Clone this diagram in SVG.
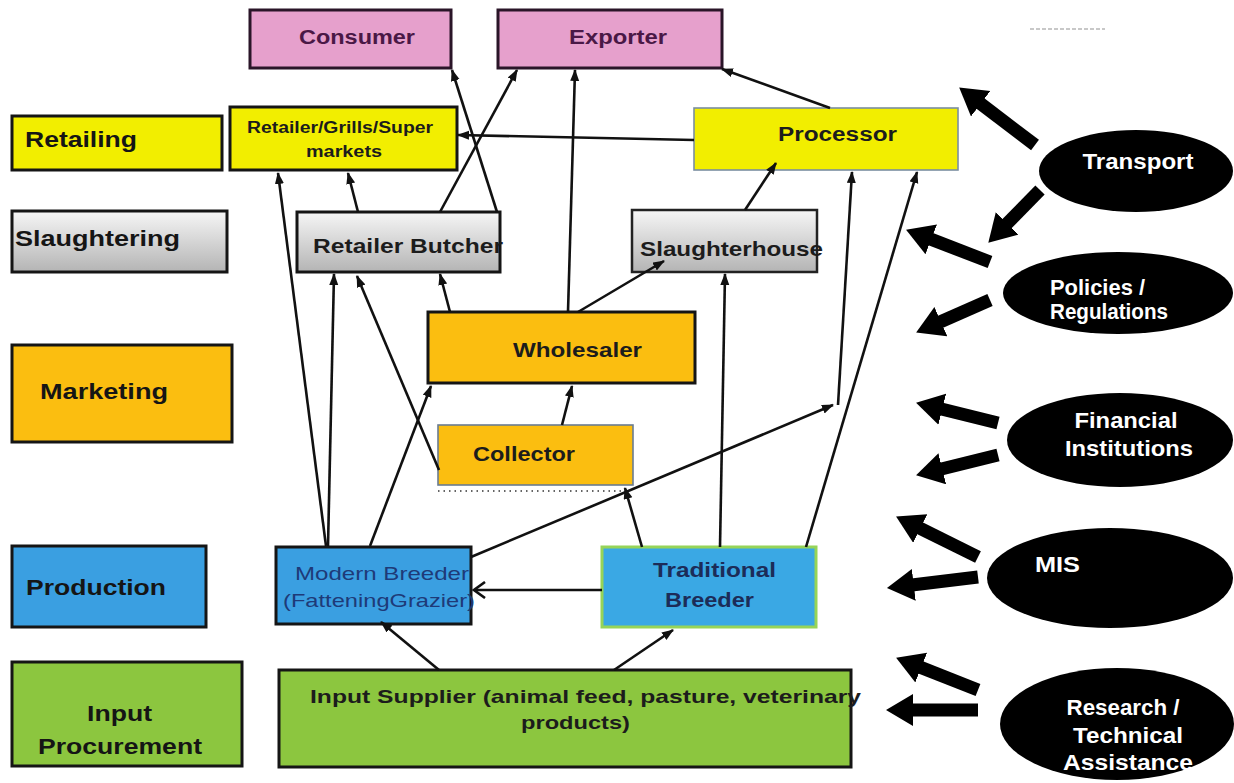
<svg xmlns="http://www.w3.org/2000/svg" width="1234" height="783" viewBox="0 0 1234 783">
  <style>
    text { font-family: "Liberation Sans", Arial, sans-serif; font-weight: bold; }
    text.plain { font-weight: normal; }
    .box { stroke: #151515; stroke-width: 3; }
    .yellow { fill: #f2ee00; }
    .gray { fill: url(#grayFill); }
    .orange { fill: #fbbe10; }
    .blue { fill: #3a9fe1; }
    .green { fill: #8cc63f; }
    .pink { fill: #e6a0cc; stroke: #2a1528; stroke-width: 3; }
    .lbl { font-size: 22px; fill: #151515; }
    .dark { fill: #1c1c1c; }
    .purple { fill: #4a1846; font-size: 20px; }
    .navy { fill: #1c2c58; }
    .oval { fill: #000; }
    .otext { fill: #fff; font-size: 22px; text-anchor: middle; }
    .otext.start { text-anchor: start; }
    .link { fill: none; stroke: #111; stroke-width: 2.6; marker-end: url(#tip); }
    .open { fill: none; stroke: #111; stroke-width: 2.6; marker-end: url(#vtip); }
    .block { fill: none; stroke: #000; stroke-width: 13; marker-end: url(#bigTip); }
  </style>
  <defs>
    <linearGradient id="grayFill" x1="0" y1="0" x2="0" y2="1">
      <stop offset="0" stop-color="#f6f6f6"/>
      <stop offset="1" stop-color="#b4b4b4"/>
    </linearGradient>
    <marker id="tip" markerUnits="userSpaceOnUse" markerWidth="12" markerHeight="10" refX="11" refY="4.5" orient="auto">
      <path d="M0,0 L12,4.5 L0,9 Z" fill="#111"/>
    </marker>
    <marker id="vtip" markerUnits="userSpaceOnUse" markerWidth="14" markerHeight="18" refX="12" refY="9" orient="auto">
      <path d="M1,1 L12,9 L1,17" fill="none" stroke="#111" stroke-width="2.6"/>
    </marker>
    <marker id="bigTip" markerUnits="userSpaceOnUse" markerWidth="28" markerHeight="34" refX="4" refY="16" orient="auto">
      <path d="M0,0 L27,16 L0,32 Z" fill="#000"/>
    </marker>
  </defs>

  <rect width="1234" height="783" fill="#fff"/>
  <line x1="1030" y1="29" x2="1105" y2="29" stroke="#c8c8c8" stroke-width="2" stroke-dasharray="4 2"/>

  <!-- stage labels, left column -->
  <g id="stage-retailing">
    <rect class="box yellow" x="12" y="116" width="210" height="54"/>
    <text class="lbl" x="25" y="147" textLength="112" lengthAdjust="spacingAndGlyphs">Retailing</text>
  </g>
  <g id="stage-slaughtering">
    <rect class="box gray" x="12" y="211" width="215" height="61"/>
    <text class="lbl" x="15" y="246" textLength="165" lengthAdjust="spacingAndGlyphs">Slaughtering</text>
  </g>
  <g id="stage-marketing">
    <rect class="box orange" x="12" y="345" width="220" height="97"/>
    <text class="lbl" x="40" y="399" textLength="128" lengthAdjust="spacingAndGlyphs">Marketing</text>
  </g>
  <g id="stage-production">
    <rect class="box blue" x="12" y="546" width="194" height="81"/>
    <text class="lbl" x="26" y="595" textLength="140" lengthAdjust="spacingAndGlyphs">Production</text>
  </g>
  <g id="stage-input">
    <rect class="box green" x="12" y="662" width="230" height="104"/>
    <text class="lbl" x="87" y="721" textLength="65" lengthAdjust="spacingAndGlyphs">Input</text>
    <text class="lbl" x="38" y="754" textLength="164" lengthAdjust="spacingAndGlyphs">Procurement</text>
  </g>

  <!-- chain actors -->
  <g id="consumer">
    <rect class="pink" x="250" y="10" width="201" height="58"/>
    <text class="purple" x="299" y="44" textLength="116" lengthAdjust="spacingAndGlyphs">Consumer</text>
  </g>
  <g id="exporter">
    <rect class="pink" x="498" y="10" width="224" height="58"/>
    <text class="purple" x="569" y="44" textLength="98" lengthAdjust="spacingAndGlyphs">Exporter</text>
  </g>
  <g id="retailer-grills">
    <rect class="box yellow" x="230" y="107" width="227" height="63"/>
    <text class="dark" x="247" y="133" font-size="16" textLength="186" lengthAdjust="spacingAndGlyphs">Retailer/Grills/Super</text>
    <text class="dark" x="306" y="157" font-size="16" textLength="76" lengthAdjust="spacingAndGlyphs">markets</text>
  </g>
  <g id="processor">
    <rect x="694" y="108" width="264" height="62" fill="#f2ee00" stroke="#7a8ea0" stroke-width="1.6"/>
    <text class="dark" x="778" y="141" font-size="20" textLength="119" lengthAdjust="spacingAndGlyphs">Processor</text>
  </g>
  <g id="retailer-butcher">
    <rect class="box gray" x="297" y="212" width="203" height="60"/>
    <text class="dark" x="313" y="253" font-size="21" textLength="190" lengthAdjust="spacingAndGlyphs">Retailer Butcher</text>
  </g>
  <g id="slaughterhouse">
    <rect class="gray" x="632" y="210" width="185" height="62" stroke="#222" stroke-width="2.5"/>
    <text class="dark" x="640" y="256" font-size="21" textLength="183" lengthAdjust="spacingAndGlyphs">Slaughterhouse</text>
  </g>
  <g id="wholesaler">
    <rect class="box orange" x="428" y="312" width="267" height="71"/>
    <text class="dark" x="513" y="357" font-size="21" textLength="129" lengthAdjust="spacingAndGlyphs">Wholesaler</text>
  </g>
  <g id="collector">
    <rect x="438" y="425" width="195" height="60" fill="#fbbe10" stroke="#6a7c92" stroke-width="1.6"/>
    <line x1="438" y1="491" x2="624" y2="491" stroke="#333" stroke-width="1.6" stroke-dasharray="1.5 4"/>
    <text class="dark" x="473" y="461" font-size="21" textLength="102" lengthAdjust="spacingAndGlyphs">Collector</text>
  </g>
  <g id="modern-breeder">
    <rect class="box blue" x="276" y="547" width="195" height="77"/>
    <text class="plain" x="295" y="580" font-size="19" fill="#1e3a78" textLength="174" lengthAdjust="spacingAndGlyphs">Modern Breeder</text>
    <text class="plain" x="283" y="607" font-size="19" fill="#1e3a78" textLength="192" lengthAdjust="spacingAndGlyphs">(FatteningGrazier)</text>
  </g>
  <g id="traditional-breeder">
    <rect x="602" y="547" width="214" height="80" fill="#3aa8e4" stroke="#96d458" stroke-width="3"/>
    <text class="navy" x="653" y="577" font-size="20" textLength="123" lengthAdjust="spacingAndGlyphs">Traditional</text>
    <text class="navy" x="665" y="607" font-size="20" textLength="89" lengthAdjust="spacingAndGlyphs">Breeder</text>
  </g>
  <g id="input-supplier">
    <rect class="box green" x="279" y="670" width="572" height="97"/>
    <text class="dark" x="310" y="703" font-size="19" textLength="551" lengthAdjust="spacingAndGlyphs">Input Supplier (animal feed, pasture, veterinary</text>
    <text class="dark" x="521" y="729" font-size="19" textLength="109" lengthAdjust="spacingAndGlyphs">products)</text>
  </g>

  <!-- support services -->
  <g id="transport">
    <ellipse class="oval" cx="1136" cy="171" rx="97" ry="41"/>
    <text class="otext" x="1138" y="169" textLength="111" lengthAdjust="spacingAndGlyphs">Transport</text>
  </g>
  <g id="policies">
    <ellipse class="oval" cx="1118" cy="293" rx="115" ry="41"/>
    <text class="otext start" x="1050" y="295" textLength="95" lengthAdjust="spacingAndGlyphs">Policies /</text>
    <text class="otext start" x="1050" y="319" textLength="118" lengthAdjust="spacingAndGlyphs">Regulations</text>
  </g>
  <g id="financial">
    <ellipse class="oval" cx="1120" cy="440" rx="113" ry="47"/>
    <text class="otext" x="1126" y="428" textLength="103" lengthAdjust="spacingAndGlyphs">Financial</text>
    <text class="otext" x="1129" y="456" textLength="128" lengthAdjust="spacingAndGlyphs">Institutions</text>
  </g>
  <g id="mis">
    <ellipse class="oval" cx="1110" cy="578" rx="123" ry="50"/>
    <text class="otext start" x="1035" y="572" textLength="45" lengthAdjust="spacingAndGlyphs">MIS</text>
  </g>
  <g id="research">
    <ellipse class="oval" cx="1117" cy="724" rx="117" ry="56"/>
    <text class="otext" x="1123" y="715" textLength="113" lengthAdjust="spacingAndGlyphs">Research /</text>
    <text class="otext" x="1128" y="743" textLength="110" lengthAdjust="spacingAndGlyphs">Technical</text>
    <text class="otext" x="1128" y="770" textLength="130" lengthAdjust="spacingAndGlyphs">Assistance</text>
  </g>

  <!-- product flows -->
  <g id="connectors">
    <line class="link" x1="497" y1="212" x2="452" y2="70"/>
    <line class="link" x1="440" y1="212" x2="517" y2="70"/>
    <line class="link" x1="568" y1="312" x2="575" y2="70"/>
    <line class="link" x1="830" y1="108" x2="722" y2="69"/>
    <line class="link" x1="694" y1="140" x2="458" y2="135"/>
    <line class="link" x1="326" y1="546" x2="278" y2="173"/>
    <line class="link" x1="328" y1="546" x2="334" y2="274"/>
    <line class="link" x1="370" y1="546" x2="431" y2="386"/>
    <line class="link" x1="439" y1="470" x2="357" y2="276"/>
    <line class="link" x1="358" y1="212" x2="348" y2="173"/>
    <line class="link" x1="450" y1="312" x2="440" y2="274"/>
    <line class="link" x1="578" y1="312" x2="664" y2="261"/>
    <line class="link" x1="562" y1="425" x2="572" y2="386"/>
    <line class="link" x1="745" y1="210" x2="776" y2="163"/>
    <line class="link" x1="720" y1="547" x2="725" y2="274"/>
    <line class="link" x1="471" y1="557" x2="833" y2="405"/>
    <line class="link" x1="838" y1="405" x2="852" y2="172"/>
    <line class="link" x1="806" y1="547" x2="917" y2="172"/>
    <line class="link" x1="642" y1="547" x2="625" y2="488"/>
    <line class="link" x1="439" y1="670" x2="381" y2="622"/>
    <line class="link" x1="614" y1="670" x2="673" y2="630"/>
    <line class="open" x1="602" y1="590" x2="474" y2="590"/>

    <!-- service influence arrows -->
    <line class="block" x1="1035" y1="145" x2="977.5" y2="101.3"/>
    <line class="block" x1="1040" y1="190" x2="1004.4" y2="226.3"/>
    <line class="block" x1="990" y1="262" x2="927.5" y2="237.9"/>
    <line class="block" x1="990" y1="300" x2="937.2" y2="323.2"/>
    <line class="block" x1="998" y1="423" x2="938.4" y2="408.3"/>
    <line class="block" x1="998" y1="455" x2="938.4" y2="469.7"/>
    <line class="block" x1="978" y1="557" x2="916.7" y2="526.7"/>
    <line class="block" x1="978" y1="577" x2="909.8" y2="585.3"/>
    <line class="block" x1="978" y1="690" x2="917.5" y2="666.1"/>
    <line class="block" x1="978" y1="710" x2="909" y2="710"/>
  </g>
</svg>
